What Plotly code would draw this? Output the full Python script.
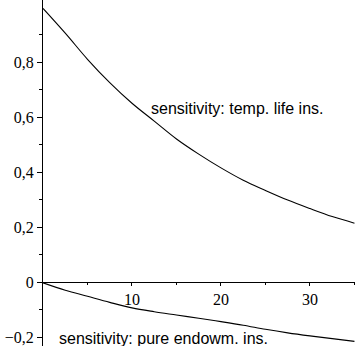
import plotly.graph_objects as go

x_vals = [0, 2.5, 5, 7.5, 10, 12.5, 15, 17.5, 20, 22.5, 25, 27.5, 30, 32.5, 35]
temp_life = [0.995, 0.905, 0.81, 0.725, 0.65, 0.585, 0.52, 0.465, 0.415, 0.37, 0.333, 0.298, 0.267, 0.238, 0.214]
pure_endow = [-0.003, -0.03, -0.052, -0.074, -0.094, -0.108, -0.12, -0.132, -0.144, -0.157, -0.172, -0.185, -0.196, -0.206, -0.216]

x_ticks = [10, 20, 30]
x_minor = [5, 15, 25, 35]
y_ticks = [-0.2, 0, 0.2, 0.4, 0.6, 0.8]
y_ticktext = ["\u22120,2", "0", "0,2", "0,4", "0,6", "0,8"]
y_minor = [-0.1, 0.1, 0.3, 0.5, 0.7, 0.9]

label_top = "sensitivity: temp. life ins."
label_bottom = "sensitivity: pure endowm. ins."

y_lo, y_hi = -0.2327, 1.0255
zero_pos = (0 - y_lo) / (y_hi - y_lo)

fig = go.Figure()
fig.add_trace(go.Scatter(x=x_vals, y=temp_life, mode="lines", line=dict(color="black", width=1.1), line_shape="spline"))
fig.add_trace(go.Scatter(x=x_vals, y=pure_endow, mode="lines", line=dict(color="black", width=1.1), line_shape="spline"))

fig.add_annotation(x=21.9, y=0.631, text=label_top, showarrow=False,
                   font=dict(family="Liberation Sans", size=16, color="black"))
fig.add_annotation(x=13.54, y=-0.204, text=label_bottom, showarrow=False,
                   font=dict(family="Liberation Sans", size=16, color="black"))

fig.update_layout(
    width=355, height=346,
    margin=dict(l=43, r=0, t=0, b=0),
    paper_bgcolor="white", plot_bgcolor="white",
    showlegend=False,
    xaxis=dict(range=[0, 35.06], anchor="free", position=zero_pos, automargin=False,
               showline=True, linecolor="black", linewidth=1,
               showgrid=False, zeroline=False,
               tickmode="array", tickvals=x_ticks, ticktext=[str(t) for t in x_ticks],
               ticks="outside", ticklen=3, tickcolor="black",
               minor=dict(tickvals=x_minor, ticks="outside", ticklen=2, tickcolor="black"),
               tickfont=dict(family="Liberation Serif", size=16, color="black")),
    yaxis=dict(range=[y_lo, y_hi], automargin=False,
               showline=True, linecolor="black", linewidth=1,
               showgrid=False, zeroline=False,
               tickmode="array", tickvals=y_ticks, ticktext=y_ticktext,
               ticks="outside", ticklen=5, tickcolor="black",
               minor=dict(tickvals=y_minor, ticks="outside", ticklen=3, tickcolor="black"),
               tickfont=dict(family="Liberation Serif", size=16, color="black")),
)

fig.write_html("out.html")
